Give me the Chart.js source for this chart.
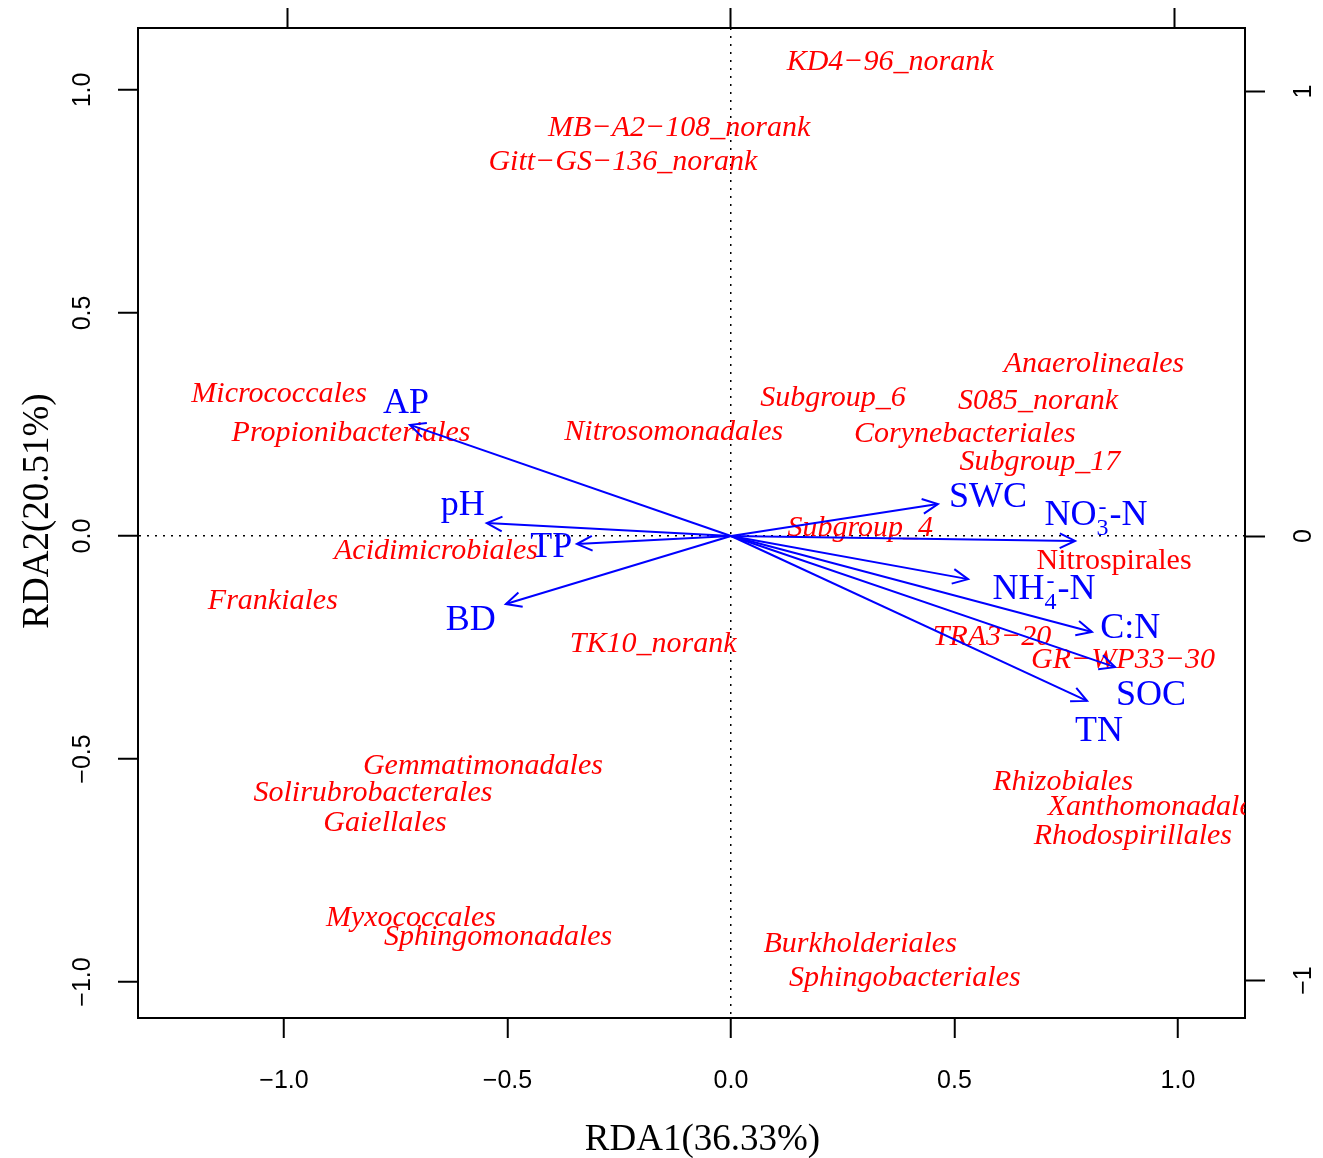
<!DOCTYPE html>
<html>
<head>
<meta charset="utf-8">
<title>RDA biplot</title>
<script src="https://cdn.jsdelivr.net/npm/chart.js@4.4.1/dist/chart.umd.min.js"></script>
<style>
  html, body { margin: 0; padding: 0; background: #fff; }
  #wrap { width: 1323px; height: 1158px; }
</style>
</head>
<body>
<div id="wrap"><canvas id="rdaChart" width="1323" height="1158"></canvas></div>
<script>
// ===============================
// RDA biplot – orders vs soil properties
// ===============================

// species (order) scores, RDA1 / RDA2
const speciesNames = [
  'KD4\u221296_norank', 'MB\u2212A2\u2212108_norank', 'Gitt\u2212GS\u2212136_norank',
  'Anaerolineales', 'Micrococcales', 'Subgroup_6', 'S085_norank',
  'Propionibacteriales', 'Nitrosomonadales', 'Corynebacteriales', 'Subgroup_17',
  'Subgroup_4', 'Acidimicrobiales', 'Nitrospirales', 'Frankiales', 'TK10_norank',
  'TRA3\u221220', 'GR\u2212WP33\u221230', 'Gemmatimonadales', 'Rhizobiales',
  'Solirubrobacterales', 'Xanthomonadales', 'Gaiellales', 'Rhodospirillales',
  'Myxococcales', 'Sphingomonadales', 'Burkholderiales', 'Sphingobacteriales'
];
const speciesX = [
  0.356, -0.116, -0.242,
  0.812, -1.011, 0.228, 0.687,
  -0.850, -0.128, 0.523, 0.691,
  0.289, -0.660, 0.857, -1.025, -0.174,
  0.584, 0.877, -0.555, 0.743,
  -0.801, 0.951, -0.774, 0.899,
  -0.716, -0.521, 0.289, 0.389
];
const speciesY = [
  1.063, 0.915, 0.839,
  0.386, 0.318, 0.309, 0.303,
  0.231, 0.233, 0.229, 0.166,
  0.018, -0.034, -0.056, -0.146, -0.242,
  -0.226, -0.278, -0.516, -0.552,
  -0.576, -0.608, -0.643, -0.673,
  -0.857, -0.899, -0.915, -0.991
];
const speciesUpright = ['Nitrospirales'];

// environmental variables (biplot arrows, secondary axes)
const envNames = ['AP', 'pH', 'TP', 'BD', 'SWC', 'NO3-N', 'NH4-N', 'C:N', 'SOC', 'TN'];
const envX = [-0.723, -0.550, -0.347, -0.507, 0.466, 0.775, 0.534, 0.813, 0.865, 0.802];
const envY = [0.250, 0.029, -0.018, -0.153, 0.072, -0.011, -0.097, -0.216, -0.295, -0.371];
const envLabelX = [-0.732, -0.604, -0.405, -0.586, 0.579, 0.822, 0.705, 0.899, 0.946, 0.829];
const envLabelY = [0.304, 0.074, -0.020, -0.184, 0.092, 0.052, -0.115, -0.202, -0.353, -0.434];

// axes
const xTicks = [-1.0, -0.5, 0.0, 0.5, 1.0];
const yTicks = [-1.0, -0.5, 0.0, 0.5, 1.0];
const arrowTicks = [-1, 0, 1];
const xTitle = 'RDA1(36.33%)';
const yTitle = 'RDA2(20.51%)';

const RED = '#ff0000';
const BLUE = '#0000ff';
const SERIF = '"Liberation Serif", "Times New Roman", serif';
const SANS = '"Liberation Sans", Arial, sans-serif';

// R style tick text, with a real minus sign
const fmt = (v, digits) => (v < 0 ? '\u2212' : '') + Math.abs(v).toFixed(digits);

// zero reference lines are dotted grid lines
const zeroLine = c => (c.tick && c.tick.value === 0 ? '#000' : 'rgba(0,0,0,0)');

function axisOpts(position, min, max, ticks, size, extra) {
  const horizontal = position === 'top' || position === 'bottom';
  return Object.assign({
    type: 'linear',
    position: position,
    min: min,
    max: max,
    afterBuildTicks: s => { s.ticks = ticks.map(v => ({ value: v })); },
    afterFit: s => { if (horizontal) s.height = size; else s.width = size; },
    border: { display: true, color: '#000', width: 2 },
    grid: {
      drawOnChartArea: false,
      tickLength: 20,
      tickColor: '#000',
      tickWidth: 2,
      tickBorderDash: []
    },
    ticks: { display: false, autoSkip: false }
  }, extra || {});
}

const zeroGrid = {
  drawOnChartArea: true,
  color: zeroLine,
  lineWidth: 1.5,
  tickLength: 20,
  tickColor: '#000',
  tickWidth: 2,
  tickBorderDash: []
};

// draw "NO3-N" style labels with sub/superscript
function drawEnvLabel(ctx, name, cx, cy) {
  const big = '36px ' + SERIF;
  const small = '24px ' + SERIF;
  const m = name.match(/^([A-Z]+)(\d)-N$/);
  const base = cy + 12;
  ctx.textBaseline = 'alphabetic';
  if (!m) {
    ctx.font = big;
    ctx.textAlign = 'center';
    ctx.fillText(name, cx, base);
    return;
  }
  ctx.textAlign = 'left';
  ctx.font = big;
  const w1 = ctx.measureText(m[1]).width;
  const w3 = ctx.measureText('-N').width;
  ctx.font = small;
  const w2 = Math.max(ctx.measureText(m[2]).width, ctx.measureText('-').width) + 1;
  let x = cx - (w1 + w2 + w3) / 2;
  ctx.font = big;
  ctx.fillText(m[1], x, base);
  x += w1;
  ctx.font = small;
  ctx.fillText(m[2], x, base + 10);
  ctx.fillText('-', x + 2, base - 11);
  x += w2;
  ctx.font = big;
  ctx.fillText('-N', x, base);
}

const biplotText = {
  id: 'biplotText',
  beforeDatasetsDraw(chart) {
    const { ctx, chartArea: a } = chart;
    const meta = chart.getDatasetMeta(0);
    ctx.save();
    ctx.beginPath();
    ctx.rect(a.left, a.top, a.right - a.left, a.bottom - a.top);
    ctx.clip();
    ctx.fillStyle = RED;
    ctx.textAlign = 'center';
    ctx.textBaseline = 'middle';
    meta.data.forEach((pt, i) => {
      const upright = speciesUpright.includes(speciesNames[i]);
      ctx.font = (upright ? '' : 'italic ') + '30px ' + SERIF;
      ctx.fillText(speciesNames[i], pt.x, pt.y);
    });
    ctx.restore();
  },
  afterDatasetsDraw(chart) {
    const ctx = chart.ctx;
    ctx.save();
    // arrow heads
    ctx.strokeStyle = BLUE;
    ctx.lineWidth = 2;
    envNames.forEach((n, i) => {
      const pts = chart.getDatasetMeta(i + 1).data;
      const p0 = pts[0], p1 = pts[1];
      const ang = Math.atan2(p1.y - p0.y, p1.x - p0.x);
      const len = 17, spread = Math.PI / 7;
      ctx.beginPath();
      ctx.moveTo(p1.x - len * Math.cos(ang - spread), p1.y - len * Math.sin(ang - spread));
      ctx.lineTo(p1.x, p1.y);
      ctx.lineTo(p1.x - len * Math.cos(ang + spread), p1.y - len * Math.sin(ang + spread));
      ctx.stroke();
    });
    // variable names
    ctx.fillStyle = BLUE;
    const lab = chart.getDatasetMeta(envNames.length + 1).data;
    lab.forEach((pt, i) => drawEnvLabel(ctx, envNames[i], pt.x, pt.y));
    ctx.restore();
  },
  afterDraw(chart) {
    const { ctx, chartArea: a } = chart;
    const sy = chart.scales.y, sy2 = chart.scales.y2;
    ctx.save();
    ctx.fillStyle = '#000';
    ctx.textAlign = 'center';
    ctx.textBaseline = 'middle';
    const put = (txt, x, y) => {
      ctx.save();
      ctx.translate(x, y);
      ctx.rotate(-Math.PI / 2);
      ctx.fillText(txt, 0, 0);
      ctx.restore();
    };
    // vertical tick labels, read bottom to top like in R
    ctx.font = '25px ' + SANS;
    sy.ticks.forEach(t => put(fmt(t.value, 1), sy.right - 55, sy.getPixelForValue(t.value)));
    sy2.ticks.forEach(t => put(fmt(t.value, 0), sy2.left + 59, sy2.getPixelForValue(t.value)));
    // axis titles
    ctx.font = '37px ' + SERIF;
    ctx.fillText(xTitle, (a.left + a.right) / 2 + 11, chart.height - 18);
    put(yTitle, 38, (a.top + a.bottom) / 2 - 12);
    ctx.restore();
  }
};

const ctx = document.getElementById('rdaChart').getContext('2d');
new Chart(ctx, {
  type: 'scatter',
  data: {
    datasets: [
      {
        label: 'species',
        data: speciesNames.map((n, i) => ({ x: speciesX[i], y: speciesY[i] })),
        pointRadius: 0,
        xAxisID: 'x',
        yAxisID: 'y'
      },
      ...envNames.map((n, i) => ({
        label: n,
        data: [{ x: 0, y: 0 }, { x: envX[i], y: envY[i] }],
        showLine: true,
        borderColor: BLUE,
        borderWidth: 2,
        pointRadius: 0,
        xAxisID: 'x2',
        yAxisID: 'y2'
      })),
      {
        label: 'env labels',
        data: envNames.map((n, i) => ({ x: envLabelX[i], y: envLabelY[i] })),
        pointRadius: 0,
        xAxisID: 'x2',
        yAxisID: 'y2'
      }
    ]
  },
  options: {
    responsive: false,
    animation: false,
    layout: { padding: { left: 20, top: 0, right: 0, bottom: 0 } },
    plugins: {
      legend: { display: false },
      tooltip: { enabled: false }
    },
    scales: {
      x: axisOpts('bottom', -1.3266, 1.1499, xTicks, 140, {
        border: { display: true, color: '#000', width: 2, dash: [2, 6] },
        grid: zeroGrid,
        ticks: {
          display: true,
          autoSkip: false,
          maxRotation: 0,
          padding: 28,
          color: '#000',
          font: { family: SANS, size: 25 },
          callback: v => fmt(v, 1)
        }
      }),
      y: axisOpts('left', -1.0807, 1.1390, yTicks, 118, {
        border: { display: true, color: '#000', width: 2, dash: [2, 6] },
        grid: zeroGrid
      }),
      x2: axisOpts('top', -1.3356, 1.1577, arrowTicks, 28),
      y2: axisOpts('right', -1.0844, 1.1429, arrowTicks, 78)
    }
  },
  plugins: [biplotText]
});
</script>
</body>
</html>
